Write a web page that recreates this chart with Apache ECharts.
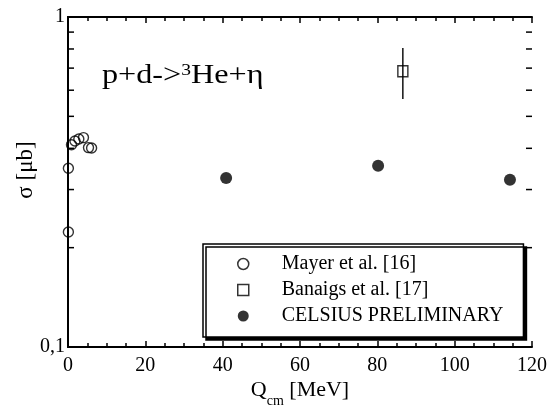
<!DOCTYPE html>
<html>
<head>
<meta charset="utf-8">
<script src="https://cdn.jsdelivr.net/npm/echarts@6/dist/echarts.min.js"></script>
<style>
  html, body { margin: 0; padding: 0; background: #fff; }
  #chart { width: 550px; height: 407px; }
</style>
</head>
<body>
<div id="chart"></div>
<script>
// Total cross section of p + d -> 3He + eta versus centre-of-mass excess energy
const xRange = [0, 120];
const yRange = [0.1, 1];
const xTickStep = 20;

const mayerQ = [0.1, 0.1, 0.9, 1.8, 2.8, 4.0, 5.3, 6.1];
const mayerSigma = [0.223, 0.348, 0.410, 0.421, 0.427, 0.431, 0.402, 0.401];

const banaigsQ = [86.6];
const banaigsSigma = [0.685];
const banaigsLow = [0.564];
const banaigsHigh = [0.806];

const celsiusQ = [40.9, 80.2, 114.3];
const celsiusSigma = [0.325, 0.354, 0.321];

// intermediate decade ticks of the logarithmic sigma axis
const yMinorTicks = [0.2, 0.3, 0.4, 0.5, 0.6, 0.7, 0.8, 0.9];

const seriesNames = ['Mayer et al. [16]', 'Banaigs et al. [17]', 'CELSIUS PRELIMINARY'];

const serif = 'Liberation Serif, Times New Roman, serif';

const zip = (a, b) => a.map((v, i) => [v, b[i]]);

const chart = echarts.init(document.getElementById('chart'), null, { renderer: 'canvas' });

const axisLine = { show: true, lineStyle: { color: '#000', width: 2 } };

const xAxisCommon = {
  type: 'value',
  min: xRange[0],
  max: xRange[1],
  interval: xTickStep,
  axisLine: axisLine,
  axisTick: { show: true, inside: true, length: 6, lineStyle: { color: '#000', width: 1.5 } },
  minorTick: { show: true, splitNumber: 4, length: 4, lineStyle: { color: '#000', width: 1.5 } },
  splitLine: { show: false },
  minorSplitLine: { show: false }
};

const yAxisCommon = {
  type: 'log',
  logBase: 10,
  min: yRange[0],
  max: yRange[1],
  axisLine: axisLine,
  axisTick: { show: false },
  splitLine: { show: false }
};

const squarePath = 'path://M0,0L10,0L10,10L0,10Z';

const option = {
  animation: false,
  backgroundColor: '#fff',
  textStyle: { fontFamily: serif, color: '#000' },
  grid: { left: 68, right: 18, top: 17, bottom: 60, containLabel: false, outerBoundsMode: 'none' },
  xAxis: [
    Object.assign({}, xAxisCommon, {
      position: 'bottom',
      axisLabel: {
        show: true, color: '#000', fontFamily: serif, fontSize: 20, margin: 9,
        verticalAlign: 'top', hideOverlap: false
      },
      name: '{q|Q}{s|cm}{m| [MeV]}',
      nameLocation: 'middle',
      nameGap: 32,
      nameMoveOverlap: false,
      nameTextStyle: {
        rich: {
          q: { fontFamily: serif, fontSize: 22, color: '#000', verticalAlign: 'top' },
          s: { fontFamily: serif, fontSize: 14, color: '#000', verticalAlign: 'top', padding: [15, 0, 0, 0] },
          m: { fontFamily: serif, fontSize: 22, color: '#000', verticalAlign: 'top' }
        }
      }
    }),
    Object.assign({}, xAxisCommon, {
      position: 'top',
      axisLabel: { show: false }
    })
  ],
  yAxis: [
    Object.assign({}, yAxisCommon, {
      position: 'left',
      axisLabel: {
        show: true, color: '#000', fontFamily: serif, fontSize: 20, margin: 3,
        verticalAlign: 'middle', hideOverlap: false,
        formatter: v => String(v).replace('.', ',')
      },
      name: 'σ [μb]',
      nameLocation: 'middle',
      nameRotate: 90,
      nameGap: 31,
      nameMoveOverlap: false,
      nameTextStyle: { fontFamily: serif, fontSize: 23, color: '#000', padding: [0, 0, 0, 24] }
    }),
    Object.assign({}, yAxisCommon, {
      position: 'right',
      axisLabel: { show: false }
    })
  ],
  legend: {
    orient: 'vertical',
    left: 203,
    top: 244,
    padding: [10, 20, 11, 34],
    itemWidth: 11,
    itemHeight: 11,
    itemGap: 6,
    symbolKeepAspect: true,
    backgroundColor: '#fff',
    borderColor: '#000',
    borderWidth: 1.5,
    borderRadius: 0,
    shadowColor: '#000',
    shadowBlur: 0,
    shadowOffsetX: 3,
    shadowOffsetY: 3,
    textStyle: { fontFamily: serif, fontSize: 20, color: '#000', padding: [0, 0, 0, 28] },
    selectedMode: false,
    data: [
      { name: seriesNames[0], icon: 'circle', itemStyle: { color: 'rgba(0,0,0,0)', borderColor: '#000', borderWidth: 1.5 } },
      { name: seriesNames[1], icon: squarePath, itemStyle: { color: 'rgba(0,0,0,0)', borderColor: '#000', borderWidth: 1.5 } },
      { name: seriesNames[2], icon: 'circle', itemStyle: { color: '#000', borderWidth: 0 } }
    ]
  },
  graphic: [
    {
      type: 'text',
      x: 102,
      y: 62,
      scaleX: 1.15,
      silent: true,
      style: {
        text: '{n|p+d->}{p|3}{n|He+η}',
        rich: {
          n: { fontFamily: serif, fontSize: 28, fill: '#000', verticalAlign: 'top' },
          p: { fontFamily: serif, fontSize: 17, fill: '#000', verticalAlign: 'top' }
        }
      }
    }
  ],
  series: [
    {
      // inward ticks at 0.2 ... 0.9 on both vertical frame sides
      type: 'custom',
      silent: true,
      xAxisIndex: 0,
      yAxisIndex: 0,
      data: yMinorTicks.map(v => [xRange[0], v]),
      renderItem: (params, api) => {
        const v = api.value(1);
        const l = api.coord([xRange[0], v]);
        const r = api.coord([xRange[1], v]);
        const st = { stroke: '#000', lineWidth: 1.5 };
        return {
          type: 'group',
          children: [
            { type: 'line', shape: { x1: l[0], y1: l[1], x2: l[0] + 6, y2: l[1] }, style: st },
            { type: 'line', shape: { x1: r[0], y1: r[1], x2: r[0] - 6, y2: r[1] }, style: st }
          ]
        };
      },
      z: 1
    },
    {
      name: seriesNames[0],
      type: 'scatter',
      data: zip(mayerQ, mayerSigma),
      symbol: 'circle',
      symbolSize: 10,
      itemStyle: { color: 'rgba(0,0,0,0)', borderColor: '#000', borderWidth: 1.4 },
      silent: true,
      z: 3
    },
    {
      // vertical error bar of the Banaigs point
      type: 'custom',
      silent: true,
      data: banaigsQ.map((q, i) => [q, banaigsLow[i], banaigsHigh[i]]),
      renderItem: (params, api) => {
        const lo = api.coord([api.value(0), api.value(1)]);
        const hi = api.coord([api.value(0), api.value(2)]);
        return {
          type: 'line',
          shape: { x1: lo[0], y1: lo[1], x2: hi[0], y2: hi[1] },
          style: { stroke: '#000', lineWidth: 1.4 }
        };
      },
      z: 2
    },
    {
      name: seriesNames[1],
      type: 'scatter',
      data: zip(banaigsQ, banaigsSigma),
      symbol: 'rect',
      symbolSize: [10, 11],
      itemStyle: { color: 'rgba(0,0,0,0)', borderColor: '#000', borderWidth: 1.5 },
      silent: true,
      z: 3
    },
    {
      name: seriesNames[2],
      type: 'scatter',
      data: zip(celsiusQ, celsiusSigma),
      symbol: 'circle',
      symbolSize: 12,
      itemStyle: { color: '#000' },
      silent: true,
      z: 3
    }
  ]
};

chart.setOption(option);
</script>
</body>
</html>
